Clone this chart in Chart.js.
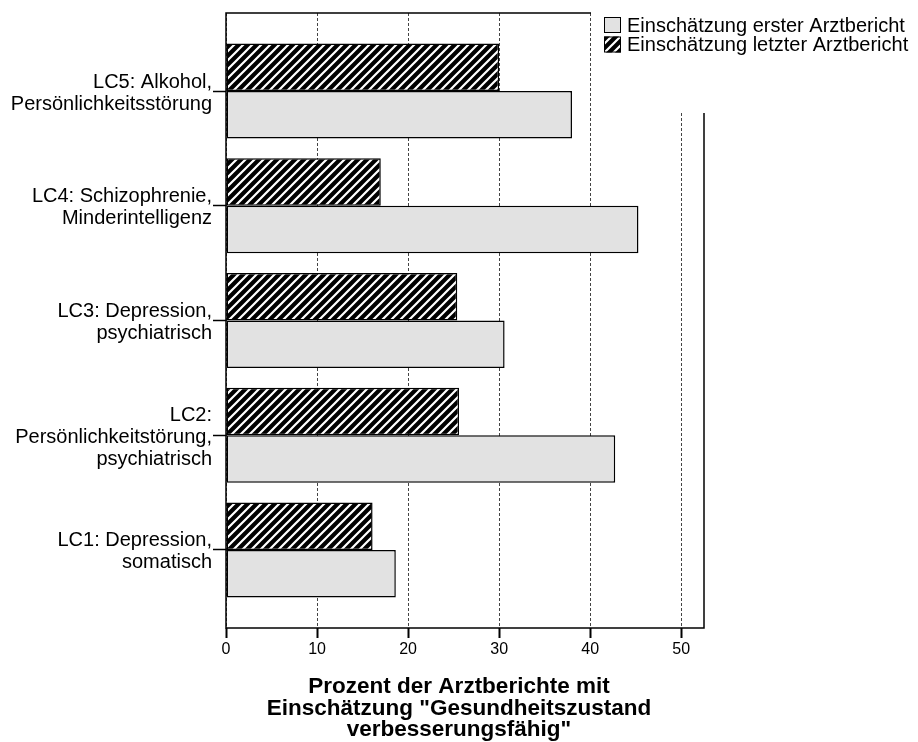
<!DOCTYPE html>
<html>
<head>
<meta charset="utf-8">
<script src="https://cdn.jsdelivr.net/npm/chart.js@4.4.0/dist/chart.umd.min.js"></script>
<style>
html,body{margin:0;padding:0;background:#fff;}
canvas{display:block;}
</style>
</head>
<body>
<canvas id="c" width="918" height="742"></canvas>
<script>
// ---- data ----
const categories = [
  ['LC5: Alkohol,', 'Persönlichkeitsstörung'],
  ['LC4: Schizophrenie,', 'Minderintelligenz'],
  ['LC3: Depression,', 'psychiatrisch'],
  ['LC2:', 'Persönlichkeitstörung,', 'psychiatrisch'],
  ['LC1: Depression,', 'somatisch']
];
const categoryPositions = [5, 4, 3, 2, 1];
const seriesNames = ['Einschätzung erster Arztbericht', 'Einschätzung letzter Arztbericht'];
const firstReport = [38.0, 45.3, 30.6, 42.75, 18.65];
const lastReport = [30.0, 17.0, 25.4, 25.6, 16.1];
const xTicks = [0, 10, 20, 30, 40, 50];
const xTitle = ['Prozent der Arztberichte mit', 'Einschätzung "Gesundheitszustand', 'verbesserungsfähig"'];

// ---- styling ----
const FAMILY = '"Liberation Sans", Arial, Helvetica, sans-serif';
const GRAY = '#e2e2e2';

function makeHatch() {
  const s = 9;
  const c = document.createElement('canvas');
  c.width = s; c.height = s;
  const g = c.getContext('2d');
  g.fillStyle = '#000';
  g.fillRect(0, 0, s, s);
  g.strokeStyle = '#fff';
  g.lineWidth = 2.2;
  g.beginPath();
  g.moveTo(-1, s + 1); g.lineTo(s + 1, -1);
  g.moveTo(-1, 1); g.lineTo(1, -1);
  g.moveTo(s - 1, s + 1); g.lineTo(s + 1, s - 1);
  g.stroke();
  return g.createPattern(c, 'repeat');
}
const HATCH = makeHatch();

const framePlugin = {
  id: 'frame',
  afterDatasetsDraw(chart) {
    const {ctx, chartArea: a} = chart;
    ctx.save();
    ctx.strokeStyle = '#000';
    ctx.lineWidth = 1.5;
    ctx.strokeRect(a.left, a.top, a.right - a.left, a.bottom - a.top);
    ctx.restore();
  }
};

const legendPlugin = {
  id: 'boxLegend',
  afterDraw(chart) {
    const ctx = chart.ctx;
    ctx.save();
    ctx.fillStyle = '#fff';
    ctx.fillRect(591, 0, 327, 113);
    const items = chart.data.datasets.slice().reverse();
    ctx.font = '20px ' + FAMILY;
    ctx.textBaseline = 'middle';
    ctx.textAlign = 'left';
    items.forEach((ds, i) => {
      const y = 17 + i * 19.5;
      ctx.fillStyle = ds.backgroundColor;
      ctx.fillRect(604, y, 17, 16);
      ctx.lineWidth = 1;
      ctx.strokeStyle = '#000';
      ctx.strokeRect(604.5, y + 0.5, 16, 15);
      ctx.fillStyle = '#000';
      ctx.fillText(ds.label, 627, y + 9);
    });
    ctx.restore();
  }
};

new Chart(document.getElementById('c'), {
  type: 'bar',
  data: {
    datasets: [
      {
        label: seriesNames[1],
        data: categoryPositions.map((p, i) => ({x: lastReport[i], y: p})),
        backgroundColor: HATCH,
        borderColor: '#000',
        borderWidth: 1.5,
        borderSkipped: false
      },
      {
        label: seriesNames[0],
        data: categoryPositions.map((p, i) => ({x: firstReport[i], y: p})),
        backgroundColor: GRAY,
        borderColor: '#000',
        borderWidth: 1.5,
        borderSkipped: false
      }
    ]
  },
  options: {
    responsive: false,
    animation: false,
    indexAxis: 'y',
    layout: {padding: {top: 13, left: 0, right: 0, bottom: 0}},
    datasets: {bar: {categoryPercentage: 0.827, barPercentage: 1}},
    plugins: {
      legend: {display: false},
      tooltip: {enabled: false},
      title: {
        display: true,
        position: 'bottom',
        text: xTitle,
        color: '#000',
        font: {family: FAMILY, size: 22.5, weight: 'bold', lineHeight: '21.5px'},
        padding: {top: 0, bottom: 1}
      }
    },
    scales: {
      x: {
        type: 'linear',
        position: 'bottom',
        min: 0,
        max: 52.5,
        offset: false,
        afterBuildTicks: s => { s.ticks = xTicks.map(v => ({value: v})); },
        afterFit: s => { s.height = 48.5; },
        grid: {offset: false, color: '#444', lineWidth: 1, drawTicks: true, tickLength: 10, tickColor: '#000', tickWidth: 2, tickBorderDash: []},
        border: {display: false, dash: [3, 2]},
        ticks: {color: '#000', font: {family: FAMILY, size: 16}, padding: 2, maxRotation: 0}
      },
      y: {
        type: 'linear',
        position: 'left',
        min: 0.32,
        max: 5.68,
        offset: false,
        afterBuildTicks: s => { s.ticks = categoryPositions.map(v => ({value: v})); },
        afterFit: s => { s.width = 226; s.paddingTop = 0; s.paddingBottom = 0; },
        grid: {offset: false, drawOnChartArea: false, drawTicks: true, tickLength: 13, tickColor: '#000', tickWidth: 1.5},
        border: {display: false},
        ticks: {
          color: '#000',
          font: {family: FAMILY, size: 20, lineHeight: '22px'},
          padding: 1,
          labelOffset: 2,
          autoSkip: false,
          callback: v => categories[categoryPositions.indexOf(v)]
        }
      },
      y2: {
        type: 'linear',
        position: 'right',
        display: true,
        grid: {display: false},
        border: {display: false},
        ticks: {display: false},
        afterFit: s => { s.width = 214; s.paddingTop = 0; s.paddingBottom = 0; }
      }
    }
  },
  plugins: [framePlugin, legendPlugin]
});
</script>
</body>
</html>
